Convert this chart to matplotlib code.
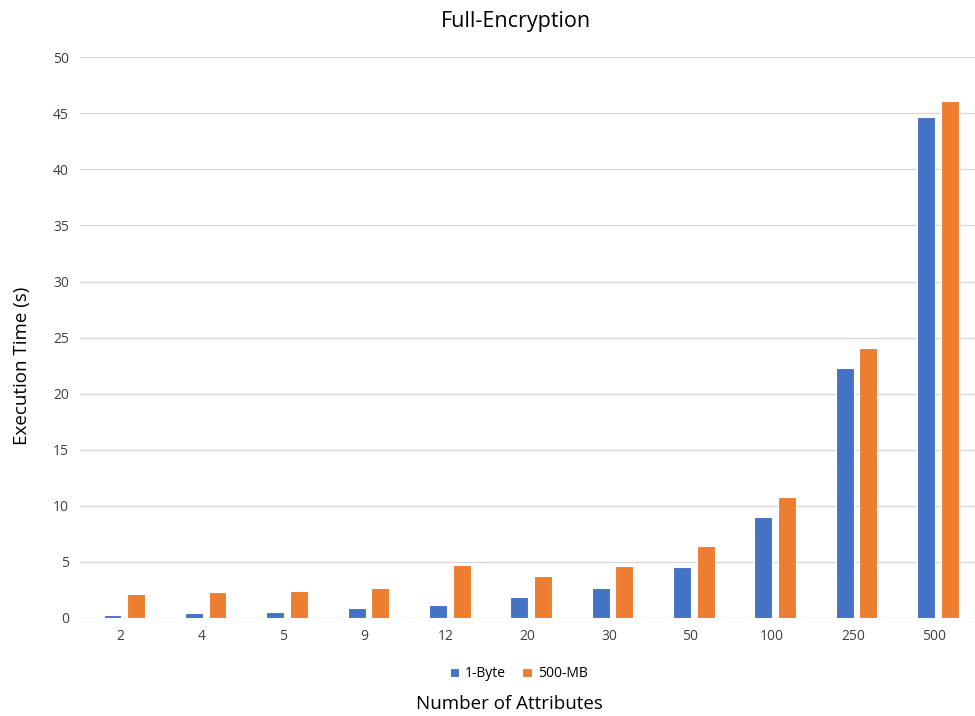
import numpy as np
import matplotlib.pyplot as plt

plt.rcParams['font.family'] = ['Open Sans', 'DejaVu Sans']

attrs = ['2', '4', '5', '9', '12', '20', '30', '50', '100', '250', '500']
one_byte = [0.24, 0.45, 0.54, 0.87, 1.17, 1.88, 2.7, 4.5, 8.96, 22.27, 44.64]
mb500 = [2.1, 2.27, 2.36, 2.69, 4.70, 3.7, 4.6, 6.38, 10.77, 24.06, 46.1]

fig = plt.figure(figsize=(9.75, 7.16), dpi=100)
ax = fig.add_axes([0.082, 0.137, 0.918, 0.783])

x = np.arange(len(attrs))
w = 0.22
ax.bar(x - 0.10, one_byte, w, color='#4472C4', edgecolor='white', linewidth=0.8, label='1-Byte', zorder=3)
ax.bar(x + 0.19, mb500, w, color='#ED7D31', edgecolor='white', linewidth=0.8, label='500-MB', zorder=3)

ax.set_xlim(-0.5, len(attrs) - 0.5)
ax.set_ylim(0, 50)
ax.set_yticks(range(0, 51, 5))
ax.set_xticks(x)
ax.set_xticklabels(attrs)
ax.grid(axis='y', color='#D9D9D9', linewidth=1, zorder=0)
for s in ax.spines.values():
    s.set_visible(False)
ax.tick_params(length=0, labelsize=10, colors='#404040', pad=8)

ax.set_title('Full-Encryption', fontsize=15.5, pad=22, x=0.487)
ax.set_ylabel('Execution Time (s)', fontsize=13.5)
ax.yaxis.set_label_coords(-0.055, 0.45)
ax.set_xlabel('Number of Attributes', fontsize=13.5)
ax.xaxis.set_label_coords(0.48, -0.138)
ax.legend(loc='center', bbox_to_anchor=(0.49, -0.1), ncol=2, frameon=False,
          fontsize=10, handlelength=0.7, handleheight=0.7, columnspacing=1.2, handletextpad=0.4)

fig.savefig('out.png')
